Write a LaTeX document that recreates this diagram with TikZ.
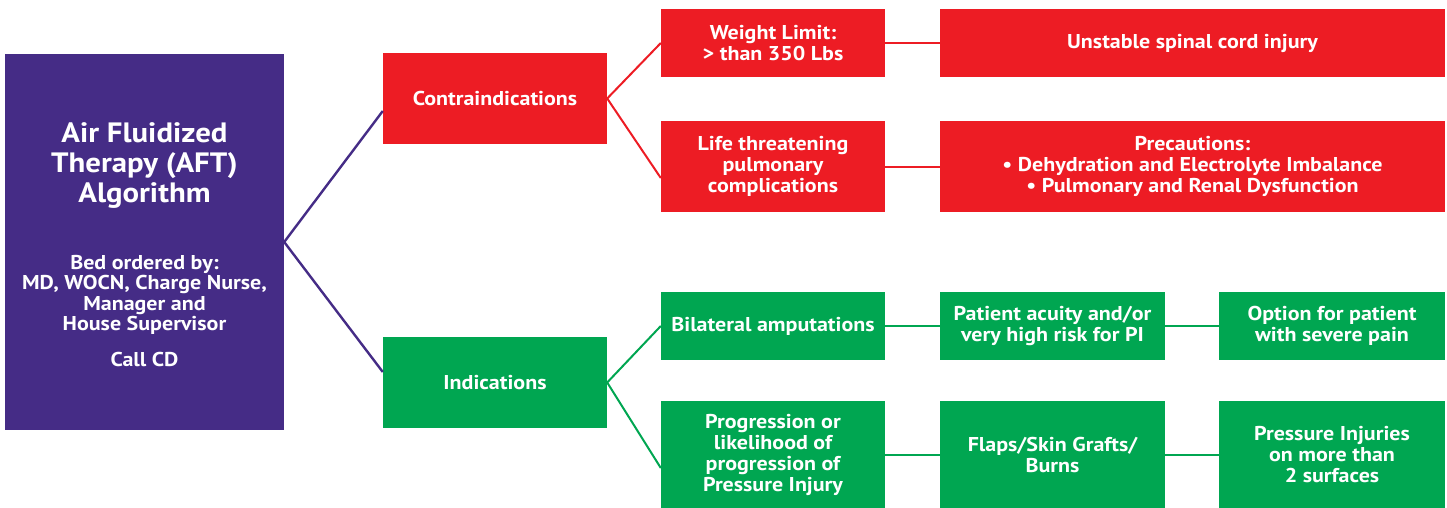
\documentclass[tikz,border=0pt]{standalone}
\usepackage{fontspec}
\setmainfont{PT Sans}[FakeStretch=1.1]
\definecolor{aftpurple}{HTML}{452C86}
\definecolor{aftred}{HTML}{ED1C24}
\definecolor{aftgreen}{HTML}{00A651}
\tikzset{
  boxbase/.style={draw=none, inner sep=0pt, align=center, text=white,
    font=\bfseries\fontsize{20}{21}\selectfont},
  redbox/.style={boxbase, fill=aftred},
  greenbox/.style={boxbase, fill=aftgreen},
  purplebox/.style={boxbase, fill=aftpurple},
  wh/.style 2 args={minimum width=#1pt, minimum height=#2pt},
  pline/.style={draw=aftpurple, line width=2.4pt},
  rline/.style={draw=aftred, line width=2pt},
  gline/.style={draw=aftgreen, line width=2pt},
  txt/.style={inner sep=0pt, align=center, text=white}
}
\begin{document}
\begin{tikzpicture}[x=1pt,y=-1pt]
\useasboundingbox (0,0) rectangle (1447,508);
% main box
\node[purplebox, wh={279}{376}] (aft) at (144.5,242) {};
\node[txt, anchor=north, font=\bfseries\fontsize{28}{30}\selectfont] (title) at (144.5,122) {Air Fluidized\\Therapy (AFT)\\Algorithm};
\node[txt, anchor=north, font=\bfseries\fontsize{20}{20.3}\selectfont] (orderedby) at (144.5,255) {Bed ordered by:\\MD, WOCN, Charge Nurse,\\Manager and\\House Supervisor};
\node[txt, anchor=north, font=\bfseries\fontsize{20}{20.3}\selectfont] (callcd) at (144.5,352) {Call CD};
% level 1
\node[redbox, wh={224}{91}] (contra) at (495,98.5) {Contraindications};
\node[greenbox, wh={224}{91}] (indic) at (495,382.5) {Indications};
% level 2 red
\node[redbox, wh={224}{68}] (weight) at (773,43) {Weight Limit:\\> than 350 Lbs};
\node[redbox, wh={224}{91}] (life) at (773,166.5) {Life threatening\\pulmonary\\complications};
\node[redbox, wh={505}{68}] (unstable) at (1192.5,43) {Unstable spinal cord injury};
\node[redbox, wh={505}{91}] (prec) at (1192.5,166.5) {Precautions:\\• Dehydration and Electrolyte Imbalance\\• Pulmonary and Renal Dysfunction};
% level 2 green
\node[greenbox, wh={224}{68}] (bilat) at (773,326) {Bilateral amputations};
\node[greenbox, wh={224}{107}] (prog) at (773,454.5) {Progression or\\likelihood of\\progression of\\Pressure Injury};
\node[greenbox, wh={225}{68}] (acuity) at (1052.5,326) {Patient acuity and/or\\very high risk for PI};
\node[greenbox, wh={226}{68}] (option) at (1332,326) {Option for patient\\with severe pain};
\node[greenbox, wh={225}{107}] (flaps) at (1052.5,454.5) {Flaps/Skin Grafts/\\Burns};
\node[greenbox, wh={226}{107}] (pressure) at (1332,454.5) {Pressure Injuries\\on more than\\2 surfaces};
% connectors
\draw[pline, line join=miter] ([yshift=-12.5pt]contra.west) -- (aft.east) -- ([yshift=10.5pt]indic.west);
\draw[rline] (weight.west) -- (contra.east) -- ([yshift=-11.5pt]life.west);
\draw[gline] (bilat.west) -- (indic.east) -- ([yshift=-13.5pt]prog.west);
\draw[rline] (weight.east) -- (unstable.west);
\draw[rline] (life.east) -- (prec.west);
\draw[gline] (bilat.east) -- (acuity.west);
\draw[gline] (acuity.east) -- (option.west);
\draw[gline] (prog.east) -- (flaps.west);
\draw[gline] (flaps.east) -- (pressure.west);
\end{tikzpicture}
\end{document}
